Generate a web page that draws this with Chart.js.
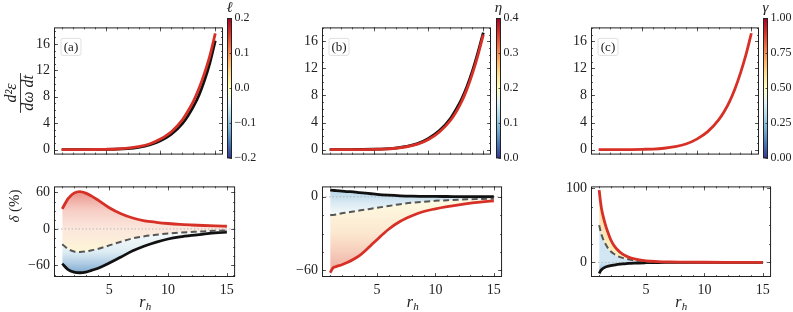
<!DOCTYPE html>
<html>
<head>
<meta charset="utf-8">
<script src="https://cdn.jsdelivr.net/npm/chart.js@4.4.0/dist/chart.umd.min.js"></script>
<style>
  body { margin: 0; background: #fff; }
  #fig { position: relative; width: 793px; height: 312px; overflow: hidden; }
</style>
</head>
<body>
<div id="fig"></div>
<script>
// ---- data ----
const xTop = [1, 2, 3, 4, 5, 6, 7, 8, 9, 10, 11, 12, 12.5, 13, 13.5, 14, 14.5, 15];
const topRedA   = [0, 0, 0.01, 0.02, 0.05, 0.1, 0.22, 0.45, 0.85, 1.6, 2.7, 4.5, 5.8, 7.3, 9.2, 11.5, 14.2, 17.6];
const topBlackA = [0, 0, 0, 0.01, 0.03, 0.07, 0.16, 0.35, 0.7, 1.35, 2.35, 3.95, 5.1, 6.5, 8.2, 10.4, 13.1, 16.5];
const topRedB   = [0, 0, 0, 0.01, 0.04, 0.08, 0.2, 0.42, 0.8, 1.5, 2.6, 4.3, 5.5, 7.0, 8.9, 11.2, 13.9, 17.0];
const topBlackB = [0, 0, 0.01, 0.02, 0.05, 0.1, 0.23, 0.47, 0.88, 1.65, 2.8, 4.6, 5.9, 7.4, 9.3, 11.6, 14.3, 17.3];
const topRedC   = [0, 0, 0, 0.01, 0.04, 0.08, 0.2, 0.43, 0.82, 1.55, 2.65, 4.4, 5.6, 7.1, 9.0, 11.3, 14.0, 17.2];

const xA     = [1, 1.5, 2, 2.5, 3, 3.5, 4, 5, 6, 7, 8, 9, 10, 11, 12, 13, 14, 15];
const redA   = [33, 50, 59, 61.5, 59, 54, 48, 35, 25, 18, 13.5, 11, 9, 7.5, 6.5, 5.7, 5, 4.5];
const dashA  = [-25, -33, -37, -38, -37, -35, -33, -27, -21, -15.5, -12, -9.5, -7.5, -6, -5, -4, -3, -2.5];
const blackA = [-57, -67, -71, -72, -71, -68, -65, -56, -46, -36, -28, -21.5, -16.5, -13, -10.5, -8.5, -6.5, -5];

const xB     = [1, 1.25, 1.5, 2, 2.5, 3, 3.5, 4, 4.5, 5, 6, 7, 8, 9, 10, 11, 12, 13, 14, 15];
const blackB = [5.5, 5.3, 5, 4.7, 4.3, 4, 3.5, 3, 2.5, 2, 1.3, 0.8, 0.5, 0.4, 0.3, 0.25, 0.2, 0.15, 0.1, 0.1];
const dashB  = [-15, -14.8, -14.5, -13.5, -12.8, -12, -11.2, -10.5, -9.7, -9, -7.5, -6, -4.8, -4, -3.3, -2.8, -2.3, -2, -1.7, -1.5];
const redB   = [-62, -58, -57, -55.5, -53.5, -51, -48, -44, -39.5, -35, -26.5, -20, -15.5, -12, -9.8, -8, -6.5, -5.2, -4.2, -3.3];

const xC     = [1, 1.1, 1.2, 1.4, 1.6, 1.8, 2, 2.25, 2.5, 3, 3.5, 4, 5, 6, 7, 8, 10, 12, 15];
const redC   = [97, 83, 72, 58, 47, 38, 30, 23, 18, 11, 7, 4.5, 2, 1, 0.5, 0.3, 0.1, 0.05, 0];
const dashC  = [50, 43, 37, 29, 23, 18, 14.5, 11.5, 9, 6, 4, 2.5, 1, 0.5, 0.2, 0.1, 0, 0, 0];
const blackC = [-15, -12, -10, -7.5, -6, -5, -4.3, -3.6, -3, -2, -1.5, -1, -0.5, -0.2, -0.1, 0, 0, 0, 0];

const xTicks = [5, 10, 15];
const topYTicks = [0, 4, 8, 12, 16];
const botYTicksA = [-60, 0, 60];
const botYTicksB = [-60, 0];
const botYTicksC = [0, 100];
const cbTicksA = [-0.2, -0.1, 0.0, 0.1, 0.2];
const cbTicksB = [0.0, 0.1, 0.2, 0.3, 0.4];
const cbTicksC = [0.0, 0.25, 0.5, 0.75, 1.0];

// ---- style ----
const SERIF = "'Liberation Serif', 'DejaVu Serif', serif";
const RED = '#d73027';
const INK = '#222';
// RdYlBu reversed
const CMAP = ['#313695', '#4575b4', '#74add1', '#abd9e9', '#e0f3f8', '#ffffbf',
              '#fee090', '#fdae61', '#f46d43', '#d73027', '#a50026'];

const fig = document.getElementById('fig');

function addCanvas(left, top, w, h) {
    const c = document.createElement('canvas');
    c.width = w; c.height = h;
    c.style.position = 'absolute';
    c.style.left = left + 'px';
    c.style.top = top + 'px';
    fig.appendChild(c);
    return c;
}

function steps(a, b, s) {
    const out = [];
    for (let v = a; v <= b + 1e-9; v += s) out.push(v);
    return out;
}

function pts(xs, ys) {
    return xs.map((x, i) => ({ x: x, y: ys[i] }));
}

// vertical gradient keyed on data values
function bandFill(stops) {
    return (c) => {
        const chart = c.chart;
        if (!chart.chartArea) return 'rgba(0,0,0,0)';
        const ys = chart.scales.y;
        const v0 = stops[0][0], v1 = stops[stops.length - 1][0];
        const g = chart.ctx.createLinearGradient(0, ys.getPixelForValue(v0), 0, ys.getPixelForValue(v1));
        stops.forEach(s => g.addColorStop((s[0] - v0) / (v1 - v0), s[1]));
        return g;
    };
}

// inward ticks on all four sides, box frame, zero line, panel tag
const frameTicks = {
    id: 'frameTicks',
    beforeDatasetsDraw(chart, args, o) {
        if (!o.zero) return;
        const { ctx, chartArea: a } = chart;
        const y0 = chart.scales.y.getPixelForValue(0);
        ctx.save();
        ctx.strokeStyle = '#aaa';
        ctx.lineWidth = 0.8;
        ctx.setLineDash([1.5, 2]);
        ctx.beginPath();
        ctx.moveTo(a.left, y0); ctx.lineTo(a.right, y0);
        ctx.stroke();
        ctx.restore();
    },
    afterDatasetsDraw(chart, args, o) {
        const { ctx, chartArea: a } = chart;
        const xs = chart.scales.x, ys = chart.scales.y;
        const inX = v => v > xs.min && v < xs.max;
        const inY = v => v > ys.min && v < ys.max;
        ctx.save();
        ctx.strokeStyle = '#333';
        ctx.lineWidth = 0.8;
        ctx.beginPath();
        const vert = (vals, len) => vals.filter(inX).forEach(v => {
            const p = Math.round(xs.getPixelForValue(v)) + 0.5;
            ctx.moveTo(p, a.bottom); ctx.lineTo(p, a.bottom - len);
            ctx.moveTo(p, a.top); ctx.lineTo(p, a.top + len);
        });
        const horiz = (vals, len) => vals.filter(inY).forEach(v => {
            const p = Math.round(ys.getPixelForValue(v)) + 0.5;
            ctx.moveTo(a.left, p); ctx.lineTo(a.left + len, p);
            ctx.moveTo(a.right, p); ctx.lineTo(a.right - len, p);
        });
        vert(o.xMajor, 4); vert(o.xMinor, 2);
        horiz(o.yMajor, 4); horiz(o.yMinor, 2);
        ctx.stroke();
        ctx.strokeStyle = INK;
        ctx.lineWidth = 1;
        ctx.strokeRect(a.left + 0.5, a.top + 0.5, a.right - a.left - 1, a.bottom - a.top - 1);
        if (o.tag) {
            const bx = a.left + 7, by = a.top + 11;
            ctx.fillStyle = 'rgba(255,255,255,0.85)';
            ctx.strokeStyle = '#d8d8d8';
            ctx.lineWidth = 0.8;
            ctx.beginPath();
            ctx.roundRect(bx, by, 20, 17, 2);
            ctx.fill(); ctx.stroke();
            ctx.fillStyle = INK;
            ctx.font = '13px ' + SERIF;
            ctx.textAlign = 'center';
            ctx.textBaseline = 'middle';
            ctx.fillText(o.tag, bx + 10, by + 9);
        }
        ctx.restore();
    }
};

function notesPlugin(left, top, draw) {
    return {
        id: 'notes',
        afterDraw(chart) {
            const ctx = chart.ctx;
            ctx.save();
            ctx.translate(-left, -top);
            ctx.fillStyle = INK;
            ctx.strokeStyle = INK;
            draw(ctx);
            ctx.restore();
        }
    };
}

function drawRh(ctx, cx) {
    ctx.textAlign = 'left';
    ctx.textBaseline = 'alphabetic';
    ctx.font = 'italic 16px ' + SERIF;
    const wr = ctx.measureText('r').width;
    ctx.font = 'italic 11px ' + SERIF;
    const wh = ctx.measureText('h').width;
    const x0 = cx - (wr + wh) / 2;
    ctx.font = 'italic 16px ' + SERIF;
    ctx.fillText('r', x0, 307);
    ctx.font = 'italic 11px ' + SERIF;
    ctx.fillText('h', x0 + wr + 0.5, 310);
}

function drawFrac(ctx, cx, cy) {
    ctx.translate(cx, cy);
    ctx.rotate(-Math.PI / 2);
    ctx.textAlign = 'center';
    ctx.textBaseline = 'alphabetic';
    ctx.font = 'italic 16px ' + SERIF;
    ctx.fillText('d\u00b2\u03b5', 0, -4.5);
    ctx.fillText('d\u03c9 dt', 0, 12.5);
    const w = ctx.measureText('d\u03c9 dt').width + 4;
    ctx.lineWidth = 0.9;
    ctx.beginPath();
    ctx.moveTo(-w / 2, 0); ctx.lineTo(w / 2, 0);
    ctx.stroke();
}

function drawDelta(ctx, cx, cy) {
    ctx.translate(cx, cy);
    ctx.rotate(-Math.PI / 2);
    ctx.textBaseline = 'middle';
    ctx.textAlign = 'left';
    ctx.font = 'italic 15px ' + SERIF;
    const w1 = ctx.measureText('\u03b4 ').width;
    ctx.font = '15px ' + SERIF;
    const w2 = ctx.measureText('(%)').width;
    const x0 = -(w1 + w2) / 2;
    ctx.font = 'italic 15px ' + SERIF;
    ctx.fillText('\u03b4', x0, 0);
    ctx.font = '15px ' + SERIF;
    ctx.fillText('(%)', x0 + w1, 0);
}

const tickFont = { family: SERIF, size: 14 };
const noGrid = { display: false, drawTicks: false, tickLength: 0 };

function panel(area, yw, xh, ds, ylim, yMajor, yMinor, showX, opts) {
    const pad = 3;
    const w = area.r - area.l + yw + pad;
    const h = area.b - area.t + xh + pad;
    const left = area.l - yw, top = area.t - pad;
    const cv = addCanvas(left, top, w, h);
    const plugins = [frameTicks];
    if (opts.notes) plugins.push(notesPlugin(left, top, opts.notes));
    return new Chart(cv, {
        type: 'line',
        data: { datasets: ds },
        options: {
            responsive: false,
            animation: false,
            events: [],
            layout: { padding: { top: pad, right: pad, left: 0, bottom: 0 } },
            elements: { point: { radius: 0 }, line: { tension: 0.4, cubicInterpolationMode: 'monotone' } },
            plugins: {
                legend: { display: false },
                tooltip: { enabled: false },
                filler: { drawTime: 'beforeDatasetsDraw' },
                frameTicks: {
                    xMajor: xTicks, xMinor: steps(1, 15, 1),
                    yMajor: yMajor, yMinor: yMinor,
                    zero: !!opts.zero, tag: opts.tag
                }
            },
            scales: {
                x: {
                    type: 'linear', min: 0.3, max: 15.7,
                    grid: noGrid, border: { display: false },
                    afterBuildTicks: s => { s.ticks = xTicks.map(v => ({ value: v })); },
                    afterFit: s => { s.height = xh; },
                    ticks: { display: showX, padding: 5, font: tickFont, color: INK }
                },
                y: {
                    type: 'linear', min: ylim[0], max: ylim[1],
                    grid: noGrid, border: { display: false },
                    afterBuildTicks: s => { s.ticks = yMajor.map(v => ({ value: v })); },
                    afterFit: s => { s.width = yw; },
                    ticks: {
                        padding: 4, font: tickFont, color: INK,
                        callback: v => String(v).replace('-', '\u2212')
                    }
                }
            }
        },
        plugins: plugins
    });
}

function cmapFill(c) {
    const chart = c.chart;
    const a = chart.chartArea;
    if (!a) return CMAP[5];
    const g = chart.ctx.createLinearGradient(0, a.bottom, 0, a.top);
    CMAP.forEach((col, i) => g.addColorStop(i / (CMAP.length - 1), col));
    return g;
}

const cbFrame = {
    id: 'cbFrame',
    afterDatasetsDraw(chart) {
        const { ctx, chartArea: a } = chart;
        const ys = chart.scales.y;
        ctx.save();
        ctx.strokeStyle = INK;
        ctx.lineWidth = 0.8;
        ctx.beginPath();
        ys.ticks.forEach(t => {
            const p = Math.round(ys.getPixelForValue(t.value)) + 0.5;
            ctx.moveTo(a.right, p); ctx.lineTo(a.right - 2.5, p);
        });
        ctx.stroke();
        ctx.lineWidth = 1;
        ctx.strokeRect(a.left + 0.5, a.top + 0.5, a.right - a.left - 1, a.bottom - a.top - 1);
        ctx.restore();
    }
};

function colorbar(area, lo, hi, ticks, dec, title) {
    const yw = 30;
    const w = area.r - area.l + yw + 1;
    const h = area.b + 3;
    const left = area.l - 1;
    const cv = addCanvas(left, 0, w, h);
    const titlePlugin = notesPlugin(left, 0, ctx => {
        ctx.font = 'italic 15px ' + SERIF;
        ctx.textAlign = 'center';
        ctx.textBaseline = 'middle';
        ctx.fillText(title, (area.l + area.r) / 2, 8);
    });
    return new Chart(cv, {
        type: 'bar',
        data: {
            labels: [''],
            datasets: [{
                data: [[lo, hi]], backgroundColor: cmapFill, borderWidth: 0,
                barPercentage: 1, categoryPercentage: 1
            }]
        },
        options: {
            responsive: false,
            animation: false,
            events: [],
            layout: { padding: { top: area.t, left: 1, right: 0, bottom: 3 } },
            plugins: { legend: { display: false }, tooltip: { enabled: false } },
            scales: {
                x: { display: false },
                y: {
                    position: 'right', min: lo, max: hi,
                    grid: noGrid, border: { display: false },
                    afterBuildTicks: s => { s.ticks = ticks.map(v => ({ value: v })); },
                    afterFit: s => { s.width = yw; },
                    ticks: {
                        padding: 2.5, color: INK, font: { family: SERIF, size: 12 },
                        callback: v => v.toFixed(dec).replace('-', '\u2212')
                    }
                }
            }
        },
        plugins: [cbFrame, titlePlugin]
    });
}

function thick(data, color) {
    return { data: data, borderColor: color, borderWidth: 2.8, fill: false };
}

function dashed(data) {
    return { data: data, borderColor: '#555', borderWidth: 2, borderDash: [6, 3.5], fill: false };
}

// ---- top row ----
panel({ l: 54, t: 18, r: 223, b: 164 }, 54, 3,
    [thick(pts(xTop, topRedA), RED), thick(pts(xTop, topBlackA), '#111')],
    [-0.75, 18.5], topYTicks, steps(0, 18, 1), false,
    { tag: '(a)', notes: ctx => drawFrac(ctx, 20.5, 93) });

panel({ l: 322, t: 18, r: 491, b: 164 }, 54, 3,
    [thick(pts(xTop, topRedB), RED), thick(pts(xTop, topBlackB), '#111')],
    [-0.74, 18.06], topYTicks, steps(0, 18, 1), false,
    { tag: '(b)' });

panel({ l: 591, t: 18, r: 759, b: 164 }, 54, 3,
    [thick(pts(xTop, topRedC), RED)],
    [-0.74, 18.06], topYTicks, steps(0, 18, 1), false,
    { tag: '(c)' });

colorbar({ l: 227, t: 18, r: 232, b: 165 }, -0.2, 0.2, cbTicksA, 1, '\u2113');
colorbar({ l: 496, t: 18, r: 501, b: 165 }, 0, 0.4, cbTicksB, 1, '\u03b7');
colorbar({ l: 763, t: 18, r: 768, b: 165 }, 0, 1, cbTicksC, 2, '\u03b3');

// ---- bottom row ----
const redBandA = bandFill([[62, 'rgba(224,105,92,0.75)'], [30, 'rgba(240,165,150,0.55)'],
                           [0, 'rgba(248,208,188,0.5)'], [-37, 'rgba(253,242,192,0.65)']]);
const blueBandA = bandFill([[-5, 'rgba(236,244,246,0.5)'], [-37, 'rgba(205,228,238,0.65)'],
                            [-72, 'rgba(105,155,202,0.85)']]);
panel({ l: 54, t: 177, r: 236, b: 277 }, 54, 35,
    [Object.assign(thick(pts(xA, redA), RED), { fill: '+1', backgroundColor: redBandA }),
     Object.assign(dashed(pts(xA, dashA)), { fill: '+1', backgroundColor: blueBandA }),
     thick(pts(xA, blackA), '#111')],
    [-79, 70], botYTicksA, steps(-75, 60, 15), true,
    { zero: true, notes: ctx => { drawRh(ctx, 145); ctx.save(); drawDelta(ctx, 15, 206); ctx.restore(); } });

const blueBandB = bandFill([[5, 'rgba(150,195,225,0.7)'], [-15, 'rgba(236,245,245,0.5)']]);
const redBandB = bandFill([[-5, 'rgba(253,245,205,0.6)'], [-30, 'rgba(250,215,175,0.6)'],
                           [-62, 'rgba(232,140,130,0.75)']]);
panel({ l: 322, t: 177, r: 503, b: 277 }, 54, 35,
    [Object.assign(thick(pts(xB, redB), RED), { fill: '+1', backgroundColor: redBandB }),
     Object.assign(dashed(pts(xB, dashB)), { fill: '+1', backgroundColor: blueBandB }),
     thick(pts(xB, blackB), '#111')],
    [-65.5, 8.5], botYTicksB, steps(-60, 5, 15), true,
    { zero: true, notes: ctx => drawRh(ctx, 412.5) });

const redBandC = bandFill([[100, 'rgba(253,185,105,0.6)'], [0, 'rgba(254,232,150,0.6)']]);
const blueBandC = bandFill([[50, 'rgba(190,225,240,0.75)'], [0, 'rgba(180,215,235,0.6)'],
                            [-15, 'rgba(95,145,198,0.85)']]);
panel({ l: 591, t: 177, r: 772, b: 277 }, 54, 35,
    [Object.assign(thick(pts(xC, redC), RED), { fill: '+1', backgroundColor: redBandC }),
     Object.assign(dashed(pts(xC, dashC)), { fill: '+1', backgroundColor: blueBandC }),
     thick(pts(xC, blackC), '#111')],
    [-19.7, 102], botYTicksC, steps(0, 100, 25), true,
    { zero: true, notes: ctx => drawRh(ctx, 681) });
</script>
</body>
</html>
